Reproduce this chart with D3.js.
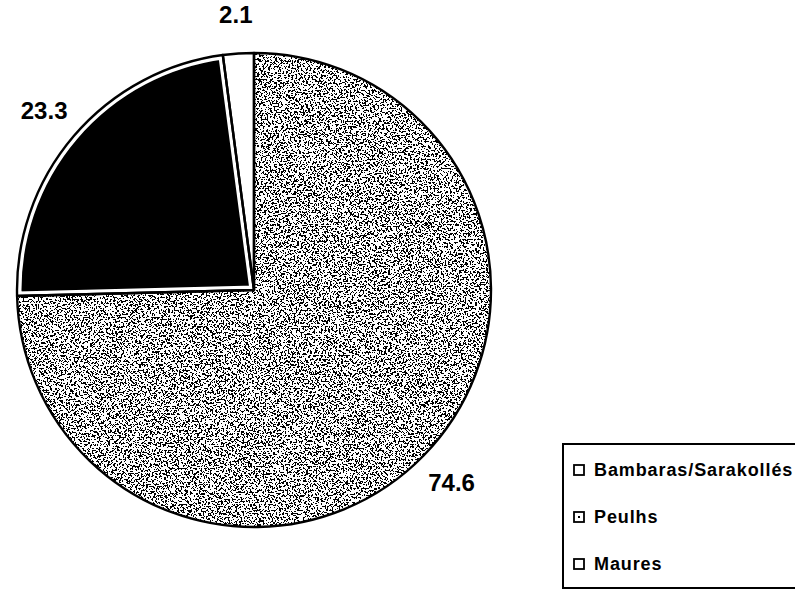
<!DOCTYPE html>
<html>
<head>
<meta charset="utf-8">
<script src="https://cdn.jsdelivr.net/npm/d3@7"></script>
<style>
body{margin:0;background:#fff;}
</style>
</head>
<body>
<script>
// ethnic groups, share in %
const groups = ['Bambaras/Sarakollés', 'Peulhs', 'Maures'];
const shares = [74.6, 23.3, 2.1];
const shareLabels = ['74.6', '23.3', '2.1'];

const W = 795, H = 589;
const cx = 254, cy = 290, R = 237;

const svg = d3.select('body').append('svg').attr('width', W).attr('height', H);
const defs = svg.append('defs');

// speckled grey (scanned stipple look)
const f = defs.append('filter').attr('id', 'speck')
    .attr('filterUnits', 'userSpaceOnUse')
    .attr('x', -R - 10).attr('y', -R - 10).attr('width', 2 * R + 20).attr('height', 2 * R + 20)
    .attr('color-interpolation-filters', 'sRGB');
f.append('feTurbulence').attr('type', 'fractalNoise').attr('baseFrequency', 0.55)
    .attr('numOctaves', 3).attr('seed', 7).attr('result', 'noise');
f.append('feColorMatrix').attr('in', 'noise').attr('type', 'matrix')
    .attr('values', '0 0 0 0 0  0 0 0 0 0  0 0 0 0 0  1 0 0 0 0').attr('result', 'a');
let ct = f.append('feComponentTransfer').attr('in', 'a').attr('result', 'dots');
ct.append('feFuncA').attr('type', 'discrete')
    .attr('tableValues', '0 0 0 0 0 0 0 0 0 0 0 1 1 1 1 1 1 1 1 1');
f.append('feComposite').attr('in', 'dots').attr('in2', 'SourceGraphic')
    .attr('operator', 'in').attr('result', 'clipped');
let mg = f.append('feMerge');
mg.append('feMergeNode').attr('in', 'SourceGraphic');
mg.append('feMergeNode').attr('in', 'clipped');

const pie = d3.pie().sort(null).value(d => d)(shares);
const arc = d3.arc().innerRadius(0).outerRadius(R);
const labelArc = d3.arc().innerRadius(276).outerRadius(276);

const g = svg.append('g').attr('transform', `translate(${cx},${cy})`);

// Bambaras/Sarakolles - speckled
g.append('path').attr('d', arc(pie[0])).attr('fill', '#fff').attr('filter', 'url(#speck)');

// Peulhs - black with inner white rim
defs.append('clipPath').attr('id', 'clipPeulhs').append('path').attr('d', arc(pie[1]));
g.append('path').attr('d', arc(pie[1])).attr('fill', '#000');
g.append('path').attr('d', arc(pie[1])).attr('fill', 'none')
    .attr('stroke', '#fff').attr('stroke-width', 9).attr('clip-path', 'url(#clipPeulhs)');

// Maures - white
g.append('path').attr('d', arc(pie[2])).attr('fill', '#fff');

// outlines
g.selectAll('path.outline').data(pie).enter().append('path')
    .attr('class', 'outline')
    .attr('d', arc)
    .attr('fill', 'none')
    .attr('stroke', '#000')
    .attr('stroke-width', 2.4)
    .attr('stroke-linejoin', 'round');

// value labels
g.selectAll('text.val').data(pie).enter().append('text')
    .attr('class', 'val')
    .attr('transform', d => `translate(${labelArc.centroid(d)})`)
    .attr('text-anchor', 'middle')
    .attr('dy', '0.36em')
    .style('font-family', '"Liberation Sans", Arial, sans-serif')
    .style('font-weight', 'bold')
    .style('font-size', '24px')
    .text((d, i) => shareLabels[i]);

// legend
const legY = d3.scalePoint().domain(groups).range([470, 564]);
svg.append('rect').attr('x', 563).attr('y', 444).attr('width', 260).attr('height', 144)
    .attr('fill', '#fff').attr('stroke', '#000').attr('stroke-width', 2);
const leg = svg.selectAll('g.leg').data(groups).enter().append('g')
    .attr('class', 'leg')
    .attr('transform', d => `translate(0,${legY(d)})`);
leg.append('rect').attr('x', 574).attr('y', -5).attr('width', 10).attr('height', 10)
    .attr('fill', '#fff').attr('stroke', '#000').attr('stroke-width', 1.8);
leg.filter(d => d === 'Peulhs').append('rect')
    .attr('x', 578).attr('y', -1).attr('width', 2).attr('height', 2).attr('fill', '#000');
leg.append('text').attr('x', 594).attr('y', 6)
    .style('font-family', '"Liberation Sans", Arial, sans-serif')
    .style('font-weight', 'bold')
    .style('font-size', '18px')
    .style('letter-spacing', '0.9px')
    .text(d => d);
</script>
</body>
</html>
